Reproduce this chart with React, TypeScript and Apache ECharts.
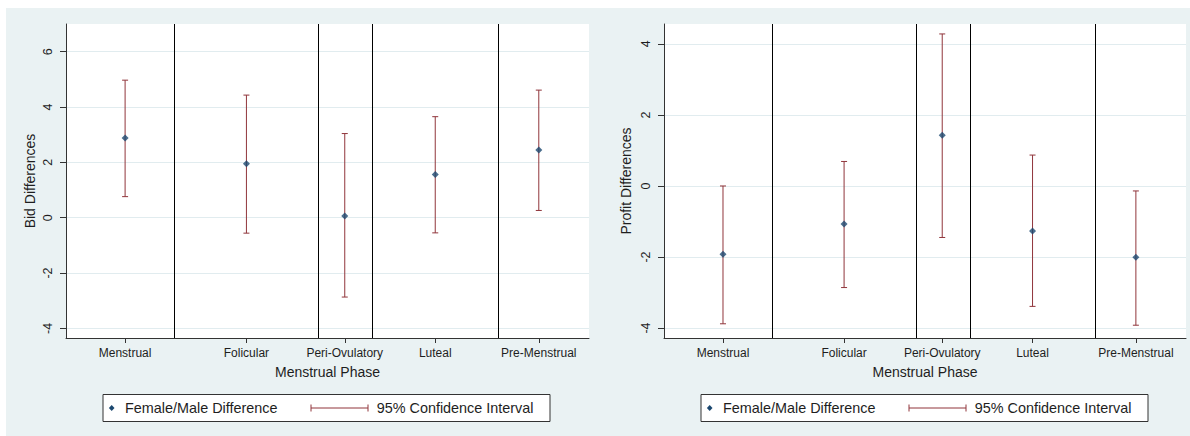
import React, { useEffect, useRef } from "react";
import * as echarts from "echarts";

// ---- data ----
const phases = ["Menstrual", "Folicular", "Peri-Ovulatory", "Luteal", "Pre-Menstrual"];
const phasePos = [11.3, 34.5, 53.3, 70.6, 90.4];
const phaseBoundaries = [20.7, 48.3, 58.6, 82.7];

const bidPoint = [2.88, 1.95, 0.06, 1.56, 2.45];
const bidLow = [0.76, -0.56, -2.87, -0.55, 0.26];
const bidHigh = [4.97, 4.43, 3.04, 3.65, 4.61];
const bidTicks = [-4, -2, 0, 2, 4, 6];

const profitPoint = [-1.92, -1.07, 1.43, -1.27, -2.01];
const profitLow = [-3.88, -2.86, -1.45, -3.39, -3.92];
const profitHigh = [0.0, 0.69, 4.28, 0.87, -0.14];
const profitTicks = [-4, -2, 0, 2, 4];

const legendPoint = "Female/Male Difference";
const legendCI = "95% Confidence Interval";
const xTitle = "Menstrual Phase";
const yTitles = ["Bid Differences", "Profit Differences"];

// ---- style ----
const FONT = "Liberation Sans, Arial, sans-serif";
const NAVY = "#1a476f";
const MAROON = "#90353b";
const BG = "#eaf2f3";
const GRIDC = "#e1ecef";
const TXT = "#1e1e1e";

export default function App() {
  const ref = useRef<HTMLDivElement>(null);
  useEffect(() => {
    if (!ref.current) return;
    const chart = echarts.init(ref.current, null, { renderer: "svg" });

    const panels = [
      { pt: bidPoint, lo: bidLow, hi: bidHigh, ticks: bidTicks, min: -4.35, max: 7.0, grid: { left: 66, top: 24, width: 523, height: 314 }, nameGap: 29, legendDx: 0 },
      { pt: profitPoint, lo: profitLow, hi: profitHigh, ticks: profitTicks, min: -4.28, max: 4.56, grid: { left: 664, top: 24, width: 522, height: 314 }, nameGap: 31, legendDx: 598 },
    ];

    const grids: any[] = [];
    const xAxes: any[] = [];
    const yAxes: any[] = [];
    const series: any[] = [];
    const graphics: any[] = [
      { type: "rect", shape: { x: 6, y: 8, width: 1184, height: 428 }, style: { fill: BG }, z: -100, silent: true },
    ];

    panels.forEach((p, i) => {
      grids.push({ ...p.grid, show: true, backgroundColor: "#fff", borderWidth: 0 });
      xAxes.push({
        type: "value",
        gridIndex: i,
        min: 0,
        max: 100,
        name: xTitle,
        nameLocation: "middle",
        nameGap: 27,
        nameTextStyle: { fontFamily: FONT, fontSize: 14, color: TXT },
        axisLine: { show: true, onZero: false, lineStyle: { color: "#333", width: 1 } },
        axisTick: { show: true, length: 5, customValues: phasePos, lineStyle: { color: "#333" } },
        axisLabel: {
          show: true,
          customValues: phasePos,
          margin: 9,
          fontFamily: FONT,
          fontSize: 12,
          color: TXT,
          formatter: (v: number) => {
            const k = phasePos.findIndex((q) => Math.abs(q - v) < 1e-6);
            return k >= 0 ? phases[k] : "";
          },
        },
        splitLine: { show: false },
      });
      yAxes.push({
        type: "value",
        gridIndex: i,
        min: p.min,
        max: p.max,
        name: yTitles[i],
        nameLocation: "middle",
        nameGap: p.nameGap,
        nameRotate: 90,
        nameTextStyle: { fontFamily: FONT, fontSize: 14, color: TXT },
        axisLine: { show: true, lineStyle: { color: "#333", width: 1 } },
        axisTick: { show: true, length: 6, customValues: p.ticks, lineStyle: { color: "#333" } },
        axisLabel: {
          show: true,
          customValues: p.ticks,
          rotate: 90,
          margin: 12,
          fontFamily: FONT,
          fontSize: 12.5,
          color: TXT,
        },
        splitLine: { show: false },
      });

      const ciData = phasePos.map((x, k) => [x, p.lo[k], p.hi[k]]);
      series.push({
        type: "custom",
        xAxisIndex: i,
        yAxisIndex: i,
        z: 2,
        silent: true,
        encode: { x: 0, y: [1, 2] },
        data: ciData,
        renderItem: (_params: any, api: any) => {
          const x = api.value(0);
          const a = api.coord([x, api.value(1)]);
          const b = api.coord([x, api.value(2)]);
          const w = 3;
          const style = { stroke: MAROON, lineWidth: 1 };
          return {
            type: "group",
            children: [
              { type: "line", shape: { x1: a[0], y1: a[1], x2: b[0], y2: b[1] }, style },
              { type: "line", shape: { x1: a[0] - w, y1: a[1], x2: a[0] + w, y2: a[1] }, style },
              { type: "line", shape: { x1: b[0] - w, y1: b[1], x2: b[0] + w, y2: b[1] }, style },
            ],
          };
        },
        markLine: {
          silent: true,
          symbol: ["none", "none"],
          label: { show: false },
          lineStyle: { color: GRIDC, width: 1.2, type: "solid" },
          z: 0,
          data: p.ticks.map((t) => ({ yAxis: t })),
        },
      });
      series.push({
        type: "scatter",
        xAxisIndex: i,
        yAxisIndex: i,
        z: 4,
        silent: true,
        symbol: "diamond",
        symbolSize: 7,
        itemStyle: { color: NAVY },
        data: phasePos.map((x, k) => [x, p.pt[k]]),
        markLine: {
          silent: true,
          symbol: ["none", "none"],
          label: { show: false },
          lineStyle: { color: "#000", width: 1, type: "solid" },
          data: phaseBoundaries.map((b) => ({ xAxis: b })),
        },
      });

      // legend box
      const dx = p.legendDx;
      const ly = 408;
      graphics.push(
        { type: "rect", shape: { x: 103 + dx, y: 394.5, width: 447, height: 27 }, style: { fill: "#fff", stroke: "#333", lineWidth: 1 }, z: 10 },
        { type: "polygon", shape: { points: [[111.7 + dx, ly - 3], [114.5 + dx, ly], [111.7 + dx, ly + 3], [108.9 + dx, ly]] }, style: { fill: NAVY }, z: 11 },
        { type: "text", x: 125 + dx, y: ly, style: { text: legendPoint, font: `14.4px ${FONT}`, fill: TXT, verticalAlign: "middle", textAlign: "left" }, z: 11 },
        { type: "line", shape: { x1: 311 + dx, y1: ly, x2: 368 + dx, y2: ly }, style: { stroke: MAROON, lineWidth: 1 }, z: 11 },
        { type: "line", shape: { x1: 311 + dx, y1: ly - 3.5, x2: 311 + dx, y2: ly + 3.5 }, style: { stroke: MAROON, lineWidth: 1 }, z: 11 },
        { type: "line", shape: { x1: 368 + dx, y1: ly - 3.5, x2: 368 + dx, y2: ly + 3.5 }, style: { stroke: MAROON, lineWidth: 1 }, z: 11 },
        { type: "text", x: 376.7 + dx, y: ly, style: { text: legendCI, font: `14.4px ${FONT}`, fill: TXT, verticalAlign: "middle", textAlign: "left" }, z: 11 },
      );
    });

    chart.setOption({
      animation: false,
      backgroundColor: "#fff",
      grid: grids,
      xAxis: xAxes,
      yAxis: yAxes,
      series,
      graphic: graphics,
    });
    return () => chart.dispose();
  }, []);

  return (
    <div
      ref={ref}
      style={{ position: "fixed", left: 0, top: 0, width: 1190, height: 436 }}
    />
  );
}
